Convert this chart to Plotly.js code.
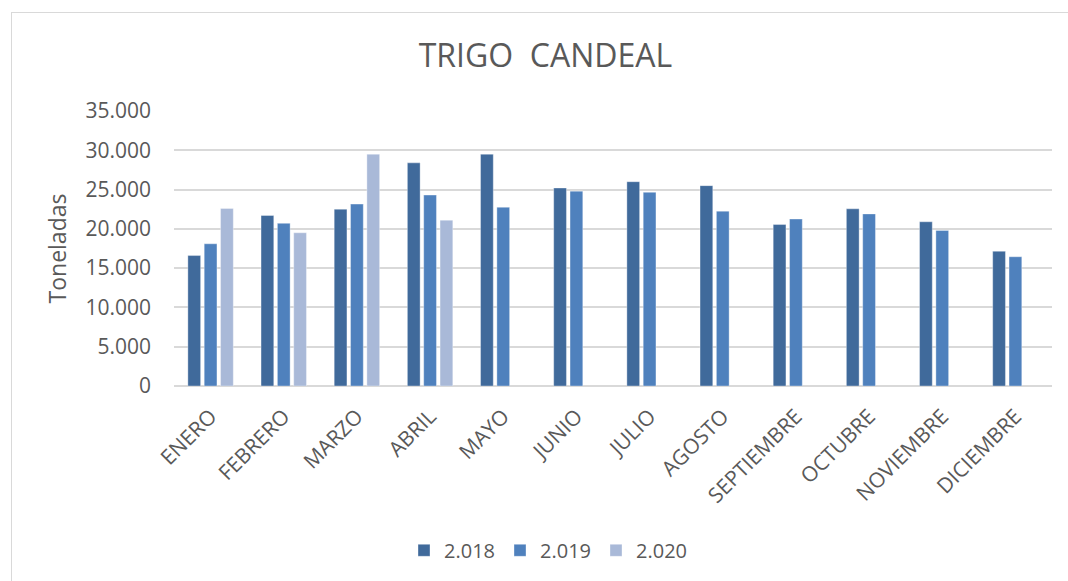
<!DOCTYPE html>
<html>
<head>
<meta charset="utf-8">
<script src="https://cdn.plot.ly/plotly-3.0.1.min.js"></script>
<style>
  html, body { margin: 0; padding: 0; background: #ffffff; overflow: hidden; }
  #wrap { position: relative; width: 1068px; height: 581px; }
  #chart { position: absolute; left: 0; top: 0; width: 1068px; height: 581px; }
  #frame { position: absolute; left: 11px; top: 12px; width: 1100px; height: 620px;
           border: 1.5px solid #d9d9d9; pointer-events: none; }
</style>
</head>
<body>
<div id="wrap">
  <div id="chart"></div>
  <div id="frame"></div>
</div>
<script>
const months = ["ENERO", "FEBRERO", "MARZO", "ABRIL", "MAYO", "JUNIO", "JULIO",
                "AGOSTO", "SEPTIEMBRE", "OCTUBRE", "NOVIEMBRE", "DICIEMBRE"];
const seriesNames = ["2.018", "2.019", "2.020"];
const values2018 = [16600, 21700, 22500, 28400, 29500, 25200, 26000, 25500, 20550, 22550, 20900, 17150];
const values2019 = [18100, 20700, 23150, 24300, 22750, 24800, 24650, 22250, 21250, 21900, 19800, 16450];
const values2020 = [22600, 19500, 29500, 21100, null, null, null, null, null, null, null, null];
const colors = ["#406a9b", "#4f81bd", "#a9b9d8"];

const font = "'Open Sans', 'Noto Sans', 'Liberation Sans', sans-serif";
const textColor = "#595959";

const allValues = [values2018, values2019, values2020];
const traces = allValues.map((vals, i) => ({
  type: "bar",
  name: seriesNames[i],
  x: months,
  y: vals,
  marker: { color: colors[i], line: { color: "rgba(255,255,255,0.35)", width: 1 } },
  hoverinfo: "x+y+name"
}));

const W = 1068, H = 581;
const L = 174, R = 1052, T = 110.7, B = 386.7;

const layout = {
  width: W, height: H,
  margin: { l: L, r: W - R, t: T, b: H - B, pad: 0 },
  paper_bgcolor: "#ffffff",
  plot_bgcolor: "#ffffff",
  separators: ",.",
  barmode: "group",
  bargap: 0.33,
  bargroupgap: 0.22,
  title: {
    text: "TRIGO  CANDEAL",
    font: { family: font, size: 32, color: textColor },
    x: 545.5 / W, xanchor: "center",
    y: 1 - 56 / H, yanchor: "middle"
  },
  xaxis: {
    type: "category",
    tickangle: -45,
    tickfont: { family: font, size: 21, color: textColor },
    showgrid: false,
    showline: false,
    zeroline: false,
    ticks: "",
    ticklabelstandoff: 13,
    automargin: false
  },
  yaxis: {
    range: [0, 35000],
    tickvals: [0, 5000, 10000, 15000, 20000, 25000, 30000, 35000],
    tickformat: ",d",
    tickfont: { family: font, size: 21, color: textColor },
    showgrid: true,
    gridcolor: "#d9d9d9",
    gridwidth: 1.5,
    zeroline: true,
    zerolinecolor: "#d9d9d9",
    zerolinewidth: 1.5,
    showline: false,
    ticks: "",
    ticklabelstandoff: 22,
    automargin: false,
    title: {
      text: "Toneladas",
      font: { family: font, size: 23, color: textColor },
      standoff: 12
    }
  },
  legend: {
    orientation: "h",
    x: (548 - L) / (R - L), xanchor: "center",
    y: (B - 550) / (B - T), yanchor: "middle",
    font: { family: font, size: 20, color: textColor },
    bgcolor: "rgba(0,0,0,0)",
    traceorder: "normal",
    itemwidth: 30
  },
  showlegend: true
};

Plotly.newPlot("chart", traces, layout, { displayModeBar: false, staticPlot: false });
</script>
</body>
</html>
